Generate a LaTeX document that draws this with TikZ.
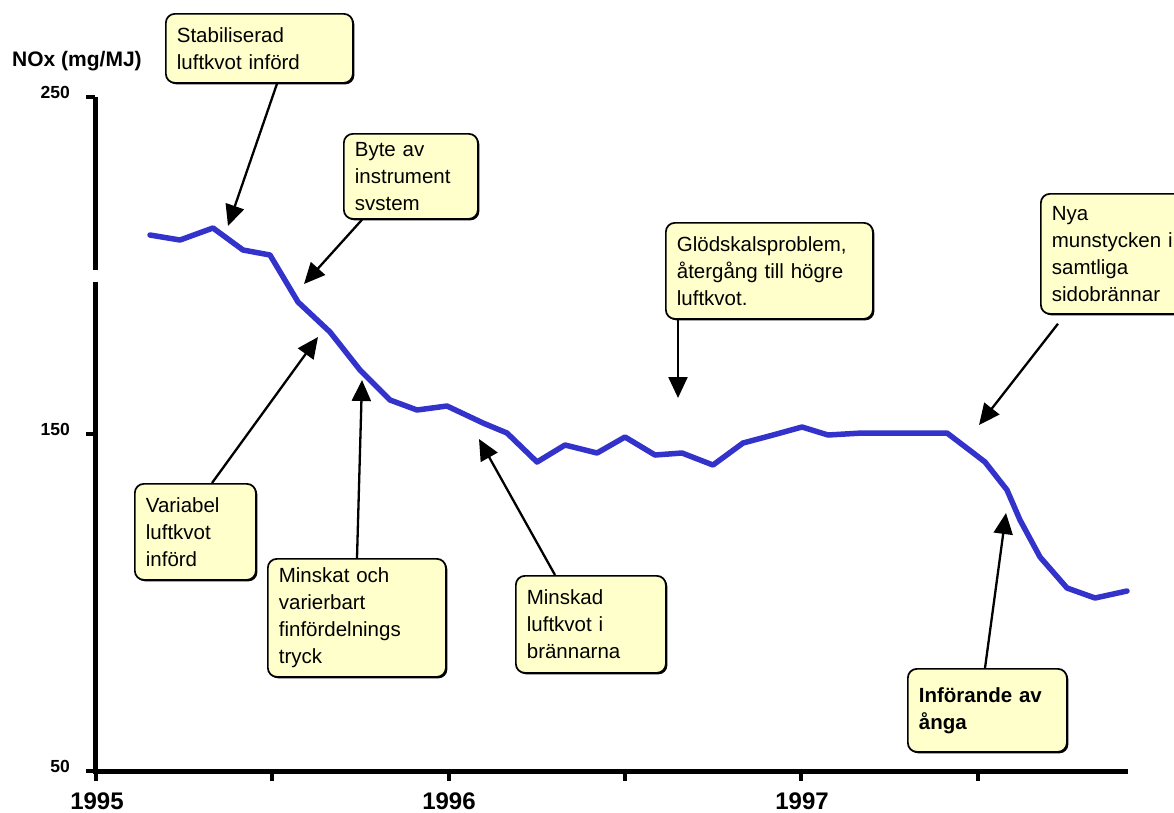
\documentclass[tikz,border=0pt]{standalone}
\usepackage{fontspec}
\setmainfont{Liberation Sans}
\usetikzlibrary{arrows.meta,shadows}
\definecolor{boxfill}{RGB}{255,255,204}
\definecolor{lineblue}{RGB}{51,51,204}
\begin{document}
\begin{tikzpicture}[x=1pt,y=-1pt,
  note/.style={draw=black, line width=1.7pt, fill=boxfill, rounded corners=9pt,
    anchor=north west, align=left, inner xsep=11pt, inner ysep=0pt,
    font=\fontsize{20.5}{27}\selectfont,
    drop shadow={shadow xshift=1.5pt, shadow yshift=-1.5pt, fill=black, opacity=1}},
  arr/.style={line width=2.3pt, -{Triangle[length=21pt,width=19pt]}},
  axisline/.style={line width=5pt},
  tick/.style={line width=4pt},
  ylab/.style={anchor=base east, inner sep=0pt, font=\fontsize{17.5}{17.5}\selectfont\bfseries},
  xlab/.style={anchor=base, inner sep=0pt, font=\fontsize{24}{24}\selectfont\bfseries},
  series/.style={draw=lineblue, line width=5.5pt, line join=round, line cap=round}]
\useasboundingbox (0,0) rectangle (1174,812);

% axes
\draw[axisline] (95,97) -- (95,773);
\draw[axisline] (93,771) -- (1128,771);
\fill[white] (90,270) rectangle (100,282);
\foreach \y in {97,434,771} \draw[tick] (86,\y) -- (95,\y);
\foreach \x in {96,272,449,625,801,978} \draw[tick] (\x,771) -- (\x,781);

\node[ylab] (l250) at (70,98) {250};
\node[ylab] (l150) at (70,435) {150};
\node[ylab] (l50) at (70,772) {50};
\node[anchor=base west, inner sep=0pt, font=\fontsize{21}{21}\selectfont\bfseries] (ytitle) at (12,66) {NOx (mg/MJ)};
\node[xlab] (y1995) at (97,809) {1995};
\node[xlab] (y1996) at (449,809) {1996};
\node[xlab] (y1997) at (802,809) {1997};

% data series
\draw[series] (150,235) -- (180,240) -- (213,228) -- (243,250) -- (270,255) -- (298,302)
  -- (330,332) -- (360,370) -- (390,400) -- (417,410) -- (447,406) -- (483,423) -- (507,433)
  -- (537,462) -- (565,445) -- (597,453) -- (625,437) -- (655,455) -- (682,453) -- (713,465)
  -- (743,443) -- (773,435) -- (802,427) -- (828,435) -- (862,433) -- (947,433) -- (972,452)
  -- (985,462) -- (1007,490) -- (1020,520) -- (1040,557) -- (1067,588) -- (1095,598) -- (1127,591);

% annotation boxes
\node[note, text width=165pt, minimum height=69pt] (b1) at (165,13) {Stabiliserad\\luftkvot införd};
\node[note, text width=112pt, minimum height=85pt] (b2) at (343,133) {Byte av\\instrument\\svstem};
\node[note, text width=185pt, minimum height=96pt] (b3) at (665,222) {Glödskalsproblem,\\återgång till högre\\luftkvot.};
\node[note, text width=123pt, minimum height=120pt] (b4) at (1040,193) {Nya\\munstycken i\\samtliga\\sidobrännar};
\node[note, text width=99pt, minimum height=96pt] (b5) at (134,483) {Variabel\\luftkvot\\införd};
\node[note, text width=156pt, minimum height=118pt] (b6) at (267,558) {Minskat och\\varierbart\\finfördelnings\\tryck};
\node[note, text width=128pt, minimum height=97pt] (b7) at (515,575) {Minskad\\luftkvot i\\brännarna};
\node[note, text width=137pt, minimum height=83pt, font=\fontsize{20.5}{27}\selectfont\bfseries] (b8) at (907,668) {Införande av\\ånga};

% arrow tips
\coordinate (t1) at (228,226);
\coordinate (t2) at (304,284);
\coordinate (t3) at (678,398);
\coordinate (t4) at (979,425);
\coordinate (t5) at (318,337);
\coordinate (t6) at (362,380);
\coordinate (t7) at (479,439);
\coordinate (t8) at (1006,513);

\draw[arr] ([xshift=112pt]b1.south west) -- (t1);
\draw[arr] ([xshift=19pt]b2.south west) -- (t2);
\draw[arr] ([xshift=13pt]b3.south west) -- (t3);
\draw[arr] ([xshift=18pt,yshift=-9pt]b4.south west) -- (t4);
\draw[arr] ([xshift=78pt]b5.north west) -- (t5);
\draw[arr] ([xshift=90pt]b6.north west) -- (t6);
\draw[arr] ([xshift=40pt]b7.north west) -- (t7);
\draw[arr] ([xshift=78pt]b8.north west) -- (t8);
\end{tikzpicture}
\end{document}
